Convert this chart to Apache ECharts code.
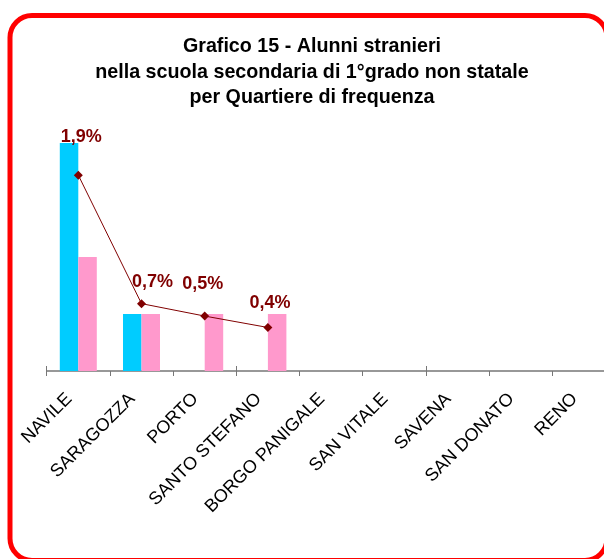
<!DOCTYPE html>
<html>
<head>
<meta charset="utf-8">
<title>Grafico 15</title>
<script src="https://cdn.jsdelivr.net/npm/echarts@6/dist/echarts.min.js"></script>
<style>
  html, body { margin: 0; padding: 0; background: #fff; overflow: hidden; }
</style>
</head>
<body>
<div id="chart" style="width: 624px; height: 559px;"></div>
<script>
// Quartieri di Bologna
const quartieri = ['NAVILE', 'SARAGOZZA', 'PORTO', 'SANTO STEFANO', 'BORGO PANIGALE',
  'SAN VITALE', 'SAVENA', 'SAN DONATO', 'RENO']
// alunni stranieri (azzurro / rosa)
const serieAzzurra = [4, 1, 0, 0, 0, 0, 0, 0, 0]
const serieRosa = [2, 1, 1, 1, 0, 0, 0, 0, 0]
// percentuale sul totale
const percentuali = [1.89, 0.65, 0.53, 0.42, null, null, null, null, null]

const chart = echarts.init(document.getElementById('chart'))

// spostamento delle etichette della linea
const labelShift = [[3, -38], [11, -22], [-2, -32], [2, -24]]

const option = {
  animation: false,
  title: {
    text: 'Grafico 15 - Alunni stranieri\nnella scuola secondaria di 1°grado non statale\nper Quartiere di frequenza',
    left: 'center',
    top: 29,
    textStyle: {
      fontFamily: 'Arial, "Liberation Sans", sans-serif',
      fontSize: 19.7,
      fontWeight: 'bold',
      color: '#000',
      lineHeight: 25.5
    }
  },
  grid: {
    left: 46.7,
    right: 8.5,
    top: 143,
    bottom: 188
  },
  graphic: [
    {
      type: 'rect',
      shape: { x: 10, y: 15.5, width: 597, height: 545, r: 22 },
      style: { fill: 'none', stroke: '#FF0000', lineWidth: 5 },
      z: 100
    }
  ],
  xAxis: [
    {
      type: 'category',
      data: quartieri,
      position: 'bottom',
      axisLine: { lineStyle: { color: '#777', width: 1.5 } },
      axisTick: { show: true, length: 5, lineStyle: { color: '#777' } },
      axisLabel: {
        interval: 0,
        rotate: 45,
        margin: 16,
        padding: [0, 13, 0, 0],
        fontFamily: 'Arial, "Liberation Sans", sans-serif',
        fontSize: 18,
        color: '#000'
      }
    },
    {
      type: 'category',
      data: quartieri,
      position: 'bottom',
      axisLine: { show: false },
      axisTick: { show: true, inside: true, length: 5, lineStyle: { color: '#777' } },
      axisLabel: { show: false }
    }
  ],
  yAxis: [
    { type: 'value', min: 0, max: 4, show: false },
    { type: 'value', min: 0, max: 2.2, show: false }
  ],
  series: [
    {
      name: 'azzurro',
      type: 'bar',
      data: serieAzzurra,
      barWidth: 18.5,
      barGap: '0%',
      itemStyle: { color: '#00CCFF' }
    },
    {
      name: 'rosa',
      type: 'bar',
      data: serieRosa,
      barWidth: 18.5,
      barGap: '0%',
      itemStyle: { color: '#FF99CC' }
    },
    {
      name: 'percentuale',
      type: 'line',
      yAxisIndex: 1,
      data: percentuali.map((v, i) => ({
        value: v,
        label: { offset: labelShift[i] || [0, 0] }
      })),
      symbol: 'diamond',
      symbolSize: 9,
      z: 5,
      lineStyle: { color: '#800000', width: 1 },
      itemStyle: { color: '#800000' },
      label: {
        show: true,
        position: 'inside',
        fontFamily: 'Arial, "Liberation Sans", sans-serif',
        fontSize: 18,
        fontWeight: 'bold',
        color: '#800000',
        formatter: p => p.value == null ? '' : p.value.toFixed(1).replace('.', ',') + '%'
      }
    }
  ]
}

chart.setOption(option)
</script>
</body>
</html>
